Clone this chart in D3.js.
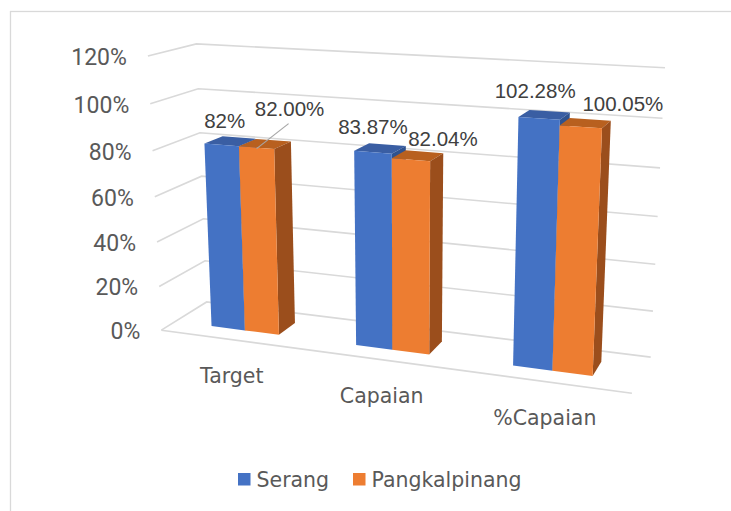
<!DOCTYPE html>
<html>
<head>
<meta charset="utf-8">
<script src="https://cdn.jsdelivr.net/npm/d3@7"></script>
<style>
  body { margin: 0; background: #fff; }
  svg { display: block; }
</style>
</head>
<body>
<div id="chart"></div>
<script>
"use strict";

// data
var categories = ["Target", "Capaian", "%Capaian"];
var seriesNames = ["Serang", "Pangkalpinang"];
var serang = [0.82, 0.8387, 1.0228];
var pangkalpinang = [0.82, 0.8204, 1.0005];
var serangLabels = ["82%", "83.87%", "102.28%"];
var pangkalLabels = ["82.00%", "82.04%", "100.05%"];
var yTicks = [0, 0.2, 0.4, 0.6, 0.8, 1.0, 1.2];

var w = 731, h = 511;

// layout: label nudges from bar top-front centre (dx, dy to baseline)
var labelNudge = [
  [[3, -17], [0, -18], [-4, -20]],
  [[33, -32], [32, -14], [42, -16]]
];

// world box: x 0..3 (categories), y 0..1 (0..120%), z 0..1 (front..back)
var xBand = d3.scaleBand().domain(categories).range([0, 3]);
var xSub = d3.scaleBand().domain(seriesNames).range([0, 1]).paddingOuter(1.1);
var yScale = d3.scaleLinear().domain([0, 1.2]).range([0, 1]);
var zFront = 0.3, zBack = 0.7;

// corners of the plot box as seen on screen, used to fit the perspective
var anchors = [
  [[0, 0, 0], [161.7, 330.5]],
  [[0, 0, 1], [206, 302]],
  [[3, 0, 1], [651, 357.3]],
  [[3, 0, 0], [632, 393]],
  [[0, 1 / 6, 0], [159, 286]],
  [[0, 1 / 6, 1], [205, 260]],
  [[3, 1 / 6, 1], [652.7, 311]],
  [[0, 0.5, 0], [155, 197]],
  [[0, 0.5, 1], [202, 177]],
  [[3, 0.5, 1], [657.7, 216.7]],
  [[0, 5 / 6, 0], [150, 104]],
  [[0, 5 / 6, 1], [199, 89]],
  [[3, 5 / 6, 1], [662.3, 118.3]],
  [[0, 1, 0], [147.7, 56]],
  [[0, 1, 1], [196, 43.3]],
  [[3, 1, 1], [665, 67.7]]
];

//least squares fit of a 3x4 projection matrix (DLT)
function fitCamera(pairs) {
  var su = 300, cu = 400, cv = 220;
  var rows = [], rhs = [];
  pairs.forEach(function(p) {
    var X = p[0][0], Y = p[0][1], Z = p[0][2];
    var u = (p[1][0] - cu) / su, v = (p[1][1] - cv) / su;
    rows.push([X, Y, Z, 1, 0, 0, 0, 0, -u * X, -u * Y, -u * Z]);
    rhs.push(u);
    rows.push([0, 0, 0, 0, X, Y, Z, 1, -v * X, -v * Y, -v * Z]);
    rhs.push(v);
  });
  var n = 11;
  var M = d3.range(n).map(function(i) {
    return d3.range(n + 1).map(function(j) {
      return d3.sum(rows, function(r, k) {
        return r[i] * (j < n ? r[j] : rhs[k]);
      });
    });
  });
  for (var c = 0; c < n; c++) {
    var piv = c;
    for (var r = c + 1; r < n; r++)
      if (Math.abs(M[r][c]) > Math.abs(M[piv][c])) piv = r;
    var tmp = M[c]; M[c] = M[piv]; M[piv] = tmp;
    for (r = 0; r < n; r++) {
      if (r === c) continue;
      var f = M[r][c] / M[c][c];
      for (var k = c; k <= n; k++) M[r][k] -= f * M[c][k];
    }
  }
  var m = M.map(function(row, i) { return row[n] / row[i]; });
  return function(P) {
    var X = P[0], Y = P[1], Z = P[2];
    var ww = m[8] * X + m[9] * Y + m[10] * Z + 1;
    return [
      cu + su * (m[0] * X + m[1] * Y + m[2] * Z + m[3]) / ww,
      cv + su * (m[4] * X + m[5] * Y + m[6] * Z + m[7]) / ww
    ];
  };
}

var project = fitCamera(anchors);

var svg = d3.select("#chart").append("svg")
  .attr("width", w)
  .attr("height", h);

// chart area border
svg.append("rect")
  .attr("x", 10.5).attr("y", 11.5)
  .attr("width", w).attr("height", h)
  .attr("fill", "none")
  .attr("stroke", "#d9d9d9")
  .attr("stroke-width", 1.3);

var line = d3.line();
var poly = function(pts) { return line(pts.map(project)) + "Z"; };

// gridlines: left wall and back wall
var grid = svg.append("g")
  .attr("fill", "none")
  .attr("stroke", "#d9d9d9")
  .attr("stroke-width", 1.6);

grid.selectAll("path.grid")
  .data(yTicks)
  .enter()
  .append("path")
  .attr("class", "grid")
  .attr("d", function(t) {
    var y = yScale(t);
    return line([[0, y, 0], [0, y, 1], [3, y, 1]].map(project));
  });

grid.append("path")
  .attr("d", line([[0, 0, 0], [3, 0, 0]].map(project)));

// tick labels
svg.append("g")
  .selectAll("text")
  .data(yTicks)
  .enter()
  .append("text")
  .attr("x", function(t) { return project([0, yScale(t), 0])[0] - 21; })
  .attr("y", function(t) { return project([0, yScale(t), 0])[1] + 9; })
  .attr("text-anchor", "end")
  .attr("font-family", "'Liberation Sans Narrow', Roboto, sans-serif")
  .attr("font-size", 23)
  .attr("fill", "#595959")
  .text(d3.format(".0%"));

// bars
var faceColors = [
  { front: "#4472c4", side: "#2f528f", top: "#3a5ea3" },
  { front: "#ed7d31", side: "#9b4e1c", top: "#b8601f" }
];
var values = [serang, pangkalpinang];
var labels = [serangLabels, pangkalLabels];

var bars = [];
categories.forEach(function(cat, ci) {
  seriesNames.forEach(function(s, si) {
    var x0 = xBand(cat) + xSub(s);
    bars.push({
      ci: ci, si: si,
      x0: x0, x1: x0 + xSub.bandwidth(),
      y1: yScale(values[si][ci])
    });
  });
});

var barG = svg.append("g")
  .selectAll("g")
  .data(bars)
  .enter()
  .append("g");

barG.append("path")
  .attr("fill", function(d) { return faceColors[d.si].top; })
  .attr("d", function(d) {
    return poly([[d.x0, d.y1, zFront], [d.x1, d.y1, zFront], [d.x1, d.y1, zBack], [d.x0, d.y1, zBack]]);
  });

barG.append("path")
  .attr("fill", function(d) { return faceColors[d.si].side; })
  .attr("d", function(d) {
    return poly([[d.x1, 0, zFront], [d.x1, 0, zBack], [d.x1, d.y1, zBack], [d.x1, d.y1, zFront]]);
  });

barG.append("path")
  .attr("fill", function(d) { return faceColors[d.si].front; })
  .attr("d", function(d) {
    return poly([[d.x0, 0, zFront], [d.x1, 0, zFront], [d.x1, d.y1, zFront], [d.x0, d.y1, zFront]]);
  });

// data labels
function topFront(d) {
  var a = project([d.x0, d.y1, zFront]), b = project([d.x1, d.y1, zFront]);
  return [(a[0] + b[0]) / 2, (a[1] + b[1]) / 2];
}

// leader line for the moved label
var lead = bars.filter(function(d) { return d.ci === 0 && d.si === 1; })[0];
var lp = topFront(lead);
svg.append("line")
  .attr("x1", lp[0] + labelNudge[1][0][0] - 1)
  .attr("y1", lp[1] + labelNudge[1][0][1] + 8)
  .attr("x2", lp[0])
  .attr("y2", lp[1] + 1)
  .attr("stroke", "#a6a6a6")
  .attr("stroke-width", 1.2);

svg.append("g")
  .selectAll("text")
  .data(bars)
  .enter()
  .append("text")
  .attr("x", function(d) { return topFront(d)[0] + labelNudge[d.si][d.ci][0]; })
  .attr("y", function(d) { return topFront(d)[1] + labelNudge[d.si][d.ci][1]; })
  .attr("text-anchor", "middle")
  .attr("font-family", "'Liberation Sans', Arial, sans-serif")
  .attr("font-size", 20.5)
  .attr("fill", "#404040")
  .text(function(d) { return labels[d.si][d.ci]; });

// category labels
svg.append("g")
  .selectAll("text")
  .data(categories)
  .enter()
  .append("text")
  .attr("x", function(c) { return project([xBand(c) + xBand.bandwidth() / 2, 0, 0])[0]; })
  .attr("y", function(c) { return project([xBand(c) + xBand.bandwidth() / 2, 0, 0])[1] + 43; })
  .attr("text-anchor", "middle")
  .attr("font-family", "'DejaVu Sans', Verdana, sans-serif")
  .attr("font-size", 20.5)
  .attr("fill", "#595959")
  .text(function(c) { return c; });

// legend
var legend = svg.append("g")
  .selectAll("g")
  .data(seriesNames)
  .enter()
  .append("g")
  .attr("transform", function(d, i) { return "translate(" + [238, 353][i] + ",473)"; });

legend.append("rect")
  .attr("width", 12.5)
  .attr("height", 12.5)
  .attr("fill", function(d, i) { return faceColors[i].front; });

legend.append("text")
  .attr("x", 18.5)
  .attr("y", 13.5)
  .attr("font-family", "'DejaVu Sans', Verdana, sans-serif")
  .attr("font-size", 20.5)
  .attr("fill", "#595959")
  .text(function(d) { return d; });
</script>
</body>
</html>
